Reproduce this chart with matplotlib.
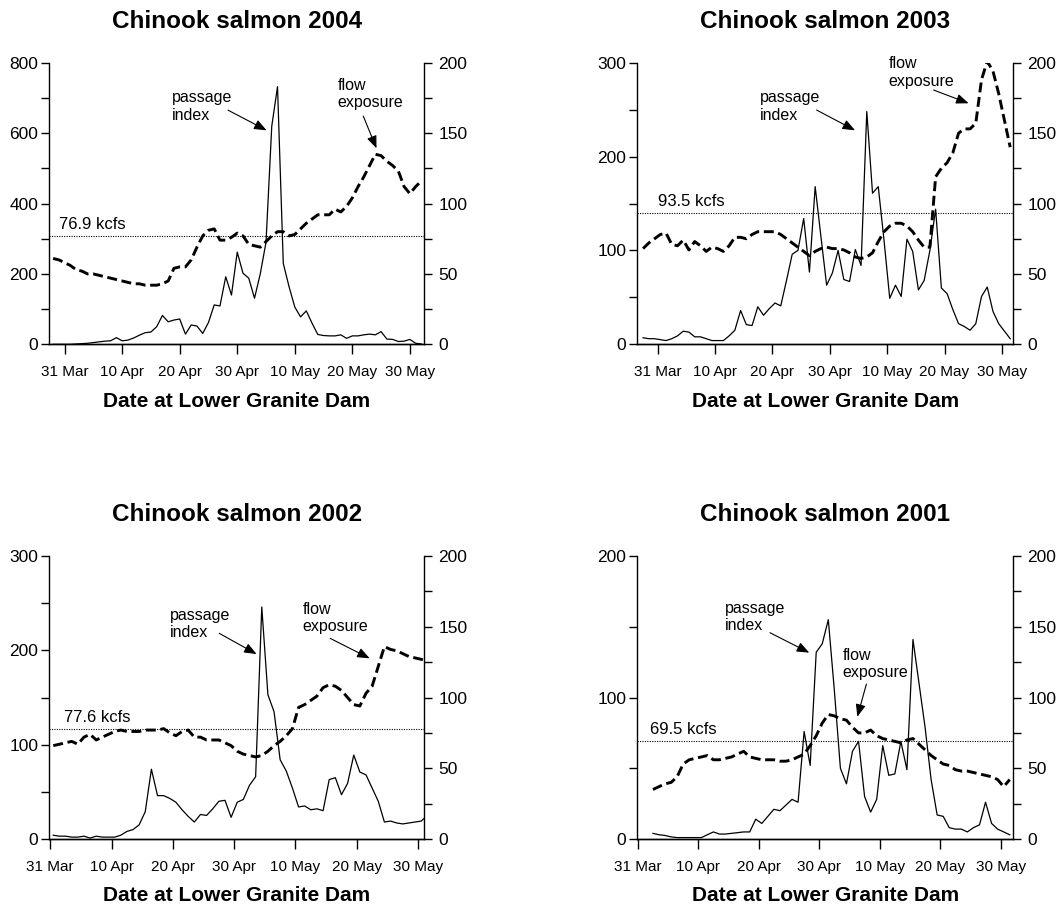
import numpy as np
import matplotlib
matplotlib.use('Agg')
import matplotlib.pyplot as plt
from matplotlib.ticker import MultipleLocator

plt.rcParams['font.family'] = ['Liberation Sans', 'DejaVu Sans']

# x axis: days after 31 March
date_ticks = [0, 10, 20, 30, 40, 50, 60]
date_labels = ['31 Mar', '10 Apr', '20 Apr', '30 Apr', '10 May', '20 May', '30 May']

# 2004 (first day = -2)
passage_2004 = [0, 0, 0, 0, 1, 2, 3, 5, 7, 9,
                10, 19, 10, 12, 18, 26, 33, 35, 50, 82,
                64, 69, 72, 29, 55, 52, 31, 62, 112, 109,
                192, 140, 262, 202, 188, 131, 200, 290, 620, 732,
                230, 164, 106, 78, 95, 60, 28, 25, 24, 24,
                27, 17, 24, 24, 27, 29, 27, 36, 15, 14,
                8, 9, 14, 3, 1]
flow_2004 = [61, 60, 58, 56, 53, 52, 50, 50, 49, 48,
             47, 46, 45, 44, 43, 43, 42, 42, 42, 43,
             45, 54, 55, 55, 60, 69, 77, 81, 82, 74,
             74, 76, 79, 77, 71, 70, 69, 73, 77, 80,
             80, 77, 78, 82, 86, 89, 92, 92, 92, 96,
             94, 98, 104, 112, 119, 127, 135, 134, 130, 127,
             123, 112, 107, 112, 116]
start_2004 = -2
mean_flow_2004 = 76.9

# 2003 (first day = -2.55)
passage_2003 = [7, 6, 6, 5, 4, 6, 9, 14, 13, 8,
                8, 6, 4, 4, 4, 9, 15, 36, 21, 20,
                40, 31, 38, 44, 41, 68, 96, 100, 134, 77,
                168, 115, 63, 76, 100, 69, 67, 101, 84, 248,
                161, 168, 111, 49, 63, 51, 112, 99, 58, 68,
                100, 144, 60, 54, 37, 22, 19, 15, 22, 51,
                61, 35, 22, 14, 6]
flow_2003 = [68, 72, 75, 78, 79, 71, 70, 74, 67, 73,
             70, 66, 69, 68, 66, 70, 76, 76, 75, 78,
             80, 80, 80, 80, 78, 75, 72, 69, 66, 63,
             66, 68, 69, 68, 68, 67, 65, 62, 61, 62,
             65, 73, 80, 84, 86, 86, 84, 80, 74, 69,
             69, 119, 125, 129, 136, 150, 153, 153, 157, 188,
             201, 194, 178, 159, 140]
start_2003 = -2.55
mean_flow_2003 = 93.5

# 2002 (first day = 0.5)
passage_2002 = [4, 3, 3, 2, 2, 3, 1, 3, 2, 2,
                2, 4, 8, 10, 15, 29, 74, 46, 46, 43,
                39, 31, 24, 18, 26, 25, 32, 40, 41, 23,
                39, 42, 57, 66, 246, 153, 135, 84, 72, 54,
                34, 35, 31, 32, 30, 63, 65, 47, 59, 89,
                71, 68, 54, 40, 18, 19, 17, 16, 17, 18,
                19, 25]
flow_2002 = [66, 67, 68, 69, 67, 72, 74, 70, 72, 74,
             76, 77, 76, 76, 76, 77, 77, 77, 78, 75,
             73, 76, 77, 72, 72, 70, 70, 70, 68, 66,
             62, 60, 59, 58, 59, 62, 66, 69, 73, 78,
             93, 95, 98, 101, 107, 109, 108, 105, 100, 95,
             94, 103, 108, 122, 136, 134, 133, 131, 129, 128,
             127, 126]
start_2002 = 0.5
mean_flow_2002 = 77.6

# 2001 (first day = 2.5)
passage_2001 = [4, 3, 2.5, 1.5, 1, 1, 1, 1, 1, 3,
                5, 3.5, 3.5, 4, 4.5, 5, 5, 14, 11, 16,
                21, 20, 24, 28, 26, 76, 52, 132, 138, 155,
                105, 50, 39, 62, 69, 30, 19, 28, 66, 45,
                46, 69, 49, 141, 110, 79, 42, 17, 16, 8,
                7, 7, 5, 8, 10, 26, 11, 7, 5, 3]
flow_2001 = [35, 37, 39, 40, 44, 53, 56, 57, 58, 59,
             56, 56, 57, 58, 60, 62, 58, 57, 56, 56,
             56, 55, 55, 56, 58, 60, 66, 73, 82, 88,
             87, 85, 84, 79, 75, 75, 77, 73, 71, 70,
             69, 68, 70, 71, 67, 63, 59, 56, 53, 52,
             49, 48, 48, 47, 46, 45, 44, 42, 37, 42]
start_2001 = 2.5
mean_flow_2001 = 69.5

panels = [
    dict(year=2004, passage=passage_2004, flow=flow_2004, start=start_2004,
         mean=mean_flow_2004, ymax=800, ystep=200,
         rect=[0.0466, 0.6212, 0.3544, 0.3098], xlim=(-2.66, 62.5),
         p_text=(18.65, 169), p_arrow=((28.4, 166.3), (35.1, 152)),
         f_text=(47.4, 177.6), f_arrow=((51.9, 162.1), (54.2, 139.2)),
         m_x=-0.9),
    dict(year=2003, passage=passage_2003, flow=flow_2003, start=start_2003,
         mean=mean_flow_2003, ymax=300, ystep=100,
         rect=[0.6024, 0.6212, 0.3554, 0.3098], xlim=(-3.55, 62.0),
         p_text=(17.84, 169), p_arrow=((27.7, 166.4), (34.4, 152)),
         f_text=(40.2, 193), f_arrow=((48.1, 180.6), (54.2, 171.2)),
         m_x=0.0),
    dict(year=2002, passage=passage_2002, flow=flow_2002, start=start_2002,
         mean=mean_flow_2002, ymax=300, ystep=100,
         rect=[0.0466, 0.0770, 0.3544, 0.3113], xlim=(-0.15, 61.0),
         p_text=(19.45, 152), p_arrow=((27.55, 145.4), (33.66, 130.7)),
         f_text=(41.2, 156), f_arrow=((45.66, 141.8), (52.1, 127.7)),
         m_x=2.2),
    dict(year=2001, passage=passage_2001, flow=flow_2001, start=start_2001,
         mean=mean_flow_2001, ymax=200, ystep=100,
         rect=[0.6024, 0.0770, 0.3554, 0.3113], xlim=(-0.08, 62.1),
         p_text=(14.4, 157), p_arrow=((21.85, 145.8), (28.35, 131.7)),
         f_text=(33.9, 123.7), f_arrow=((37.8, 109.5), (36.3, 86.4)),
         m_x=2.0),
]

fig = plt.figure(figsize=(10.58, 9.09), dpi=100)
arrow_kw = dict(arrowstyle='-|>,head_length=0.5,head_width=0.2', color='black',
                lw=0.8, mutation_scale=15, shrinkA=0, shrinkB=0)

for p in panels:
    ax = fig.add_axes(p['rect'])
    days = p['start'] + np.arange(len(p['passage']))
    ax.plot(days, p['passage'], color='black', lw=0.9)
    ax.set_ylim(0, p['ymax'])
    ax.yaxis.set_major_locator(MultipleLocator(p['ystep']))
    ax.yaxis.set_minor_locator(MultipleLocator(p['ystep'] / 2))
    ax.set_xlim(*p['xlim'])
    ax.set_xticks(date_ticks, date_labels)
    ax.spines['top'].set_visible(False)
    ax.spines['right'].set_visible(False)
    ax.tick_params(axis='y', which='both', direction='out', length=6, width=1,
                   labelsize=12.5, pad=2)
    ax.tick_params(axis='x', direction='out', length=7, width=1, labelsize=11, pad=8)
    ax.set_xlabel('Date at Lower Granite Dam', fontsize=15, fontweight='bold', labelpad=9)
    ax.set_title('Chinook salmon %d' % p['year'], fontsize=17.5, fontweight='bold', pad=25)

    ax2 = ax.twinx()
    ax2.plot(days, p['flow'], color='black', lw=2.1, dashes=(3.4, 1.6))
    ax2.axhline(p['mean'], color='black', lw=0.8, linestyle=(0, (1, 1.2)))
    ax2.set_ylim(0, 200)
    ax2.yaxis.set_major_locator(MultipleLocator(50))
    ax2.yaxis.set_minor_locator(MultipleLocator(25))
    ax2.spines['top'].set_visible(False)
    ax2.spines['left'].set_visible(False)
    ax2.tick_params(axis='y', which='both', direction='out', length=6, width=1,
                    labelsize=12.5, pad=4)
    for s in ['left', 'bottom', 'right']:
        ax.spines[s].set_linewidth(1)
        ax2.spines[s].set_linewidth(1)

    ax2.annotate('%.1f kcfs' % p['mean'], xy=(p['m_x'], p['mean']), xytext=(0, 3),
                 textcoords='offset points', fontsize=12, ha='left', va='bottom')
    ax2.text(p['p_text'][0], p['p_text'][1], 'passage\nindex', fontsize=11.5,
             ha='left', va='center')
    ax2.text(p['f_text'][0], p['f_text'][1], 'flow\nexposure', fontsize=11.5,
             ha='left', va='center')
    ax2.annotate('', xy=p['p_arrow'][1], xytext=p['p_arrow'][0], arrowprops=arrow_kw)
    ax2.annotate('', xy=p['f_arrow'][1], xytext=p['f_arrow'][0], arrowprops=arrow_kw)

fig.savefig('out.png', dpi=100)
